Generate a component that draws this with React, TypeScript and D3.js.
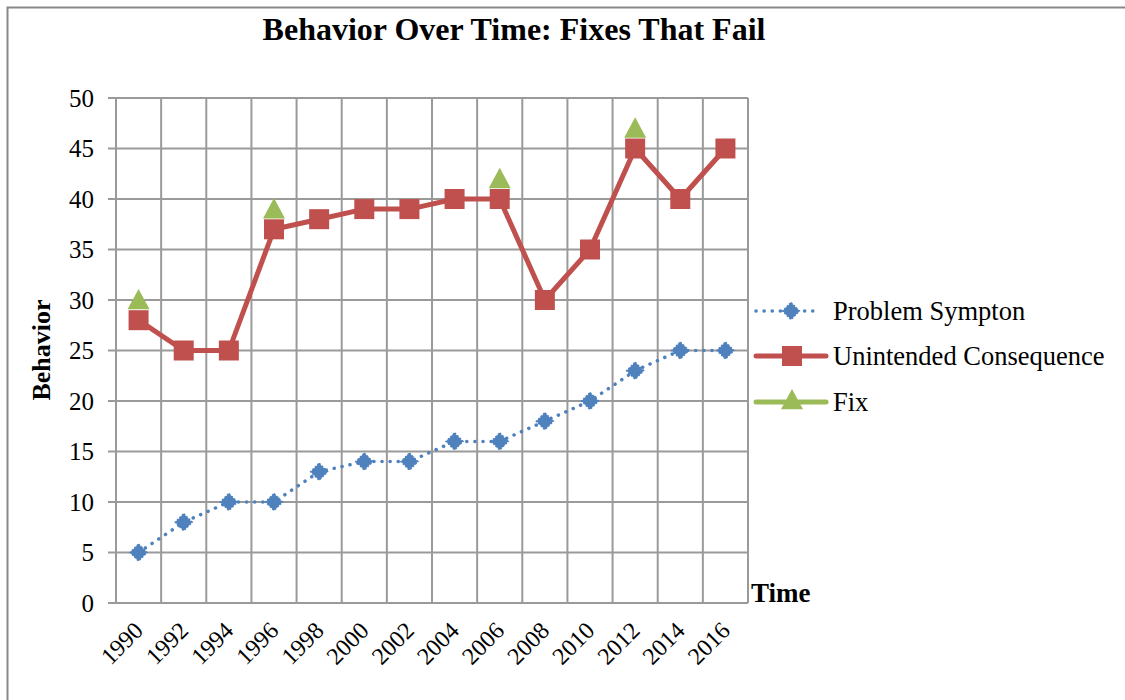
import React from "react";
import * as d3 from "d3";

const categories = ["1990","1992","1994","1996","1998","2000","2002","2004","2006","2008","2010","2012","2014","2016"];
const problemSymptom = [5, 8, 10, 10, 13, 14, 14, 16, 16, 18, 20, 23, 25, 25];
const unintended = [28, 25, 25, 37, 38, 39, 39, 40, 40, 30, 35, 45, 40, 45];
const fix: (number | null)[] = [30, null, null, 39, null, null, null, null, 42, null, null, 47, null, null];
const yTicks = [0, 5, 10, 15, 20, 25, 30, 35, 40, 45, 50];
const legendItems = ["Problem Sympton", "Unintended Consequence", "Fix"];

const BLUE = "#4F81BD";
const RED = "#C0504D";
const GREEN = "#9BBB59";
const GRID = "#9a9a9a";
const FONT = "'Liberation Serif', 'Times New Roman', serif";

export default function App() {
  const W = 1125, H = 700;
  const left = 116, right = 748, top = 98, bottom = 603;
  const x = d3.scaleBand<string>().domain(categories).range([left, right]);
  const y = d3.scaleLinear().domain([0, 50]).range([bottom, top]);
  const cx = (c: string) => (x(c) as number) + x.bandwidth() / 2;

  const line = d3.line<[string, number]>().x(d => cx(d[0])).y(d => y(d[1]));
  const ps: [string, number][] = categories.map((c, i) => [c, problemSymptom[i]]);
  const uc: [string, number][] = categories.map((c, i) => [c, unintended[i]]);

  const diamond = (px: number, py: number, s: number) =>
    `M${px},${py - s}L${px + s},${py}L${px},${py + s}L${px - s},${py}Z`;
  const tri = (px: number, py: number, s: number) =>
    `M${px},${py - s}L${px + s},${py + s * 0.85}L${px - s},${py + s * 0.85}Z`;

  const vLines = categories.map(c => x(c) as number).concat([right]);

  return (
    <svg width={W} height={H} style={{ position: "absolute", left: 0, top: 0 }} fontFamily={FONT}>
      <rect x={0} y={0} width={W} height={H} fill="#fff" />
      <rect x={7.5} y={7.5} width={W + 10} height={H + 10} fill="none" stroke="#888" strokeWidth={2} />
      <text x={514} y={40} textAnchor="middle" fontWeight="bold" fontSize={32}>Behavior Over Time: Fixes That Fail</text>

      {/* grid */}
      {yTicks.map(t => (
        <line key={"h" + t} x1={108} x2={right} y1={y(t)} y2={y(t)} stroke={GRID} strokeWidth={2} />
      ))}
      {vLines.map((vx, i) => (
        <line key={"v" + i} x1={vx} x2={vx} y1={top} y2={bottom} stroke={GRID} strokeWidth={2} />
      ))}

      {/* y labels */}
      {yTicks.map(t => (
        <text key={"yl" + t} x={94} y={y(t)} dy="0.35em" textAnchor="end" fontSize={25}>{t}</text>
      ))}
      <text transform={`translate(50,350) rotate(-90)`} textAnchor="middle" fontWeight="bold" fontSize={26}>Behavior</text>
      <text x={751} y={602} fontWeight="bold" fontSize={27}>Time</text>

      {/* x labels */}
      {categories.map(c => (
        <text key={"xl" + c} transform={`translate(${cx(c) + 6},${632}) rotate(-45)`} textAnchor="end" fontSize={24}>{c}</text>
      ))}

      {/* problem symptom */}
      <path d={line(ps) as string} fill="none" stroke={BLUE} strokeWidth={3.5} strokeDasharray="0.1 8" strokeLinecap="round" />
      {ps.map(d => (
        <path key={"pd" + d[0]} d={diamond(cx(d[0]), y(d[1]), 8.5)} fill={BLUE} stroke={BLUE} strokeWidth={1.5} strokeDasharray="2 1.5" />
      ))}

      {/* fix triangles (behind) */}
      {fix.map((v, i) => v === null ? null : (
        <path key={"f" + i} d={tri(cx(categories[i]), y(v), 11)} fill={GREEN} />
      ))}

      {/* unintended */}
      <path d={line(uc) as string} fill="none" stroke={RED} strokeWidth={5} strokeLinejoin="round" />
      {uc.map(d => (
        <rect key={"u" + d[0]} x={cx(d[0]) - 10} y={y(d[1]) - 10} width={20} height={20} fill={RED} />
      ))}

      {/* legend */}
      {legendItems.map((name, i) => {
        const ly = [311, 356, 402][i];
        return (
          <g key={name}>
            {i === 0 && (
              <>
                <line x1={756} x2={820} y1={ly} y2={ly} stroke={BLUE} strokeWidth={3.5} strokeDasharray="0.1 8" strokeLinecap="round" />
                <path d={diamond(791, ly, 8.5)} fill={BLUE} stroke={BLUE} strokeWidth={1.5} strokeDasharray="2 1.5" />
              </>
            )}
            {i === 1 && (
              <>
                <line x1={756} x2={826} y1={ly} y2={ly} stroke={RED} strokeWidth={5} strokeLinecap="round" />
                <rect x={782} y={ly - 10} width={20} height={20} fill={RED} />
              </>
            )}
            {i === 2 && (
              <>
                <line x1={756} x2={826} y1={ly} y2={ly} stroke={GREEN} strokeWidth={5} strokeLinecap="round" />
                <path d={tri(792, ly - 2, 11)} fill={GREEN} />
              </>
            )}
            <text x={833} y={ly} dy="0.35em" fontSize={26.5}>{name}</text>
          </g>
        );
      })}
    </svg>
  );
}
